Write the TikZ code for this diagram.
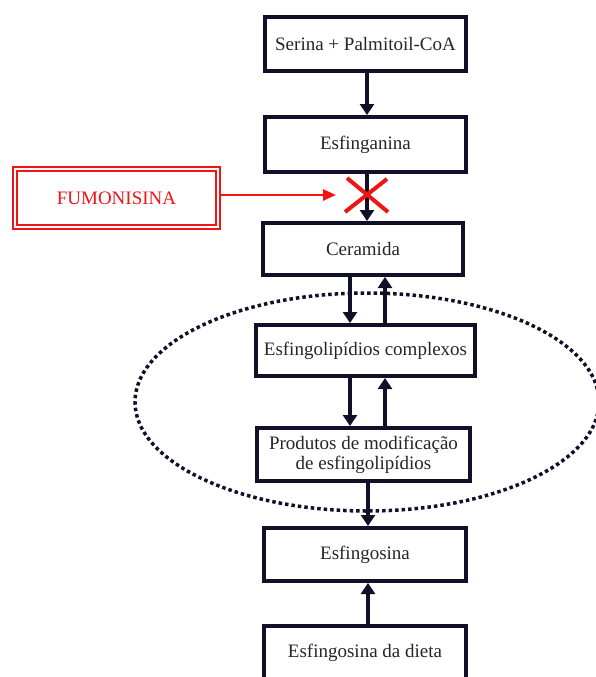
\documentclass[tikz,border=0pt]{standalone}
\usepackage{fontspec}
\setmainfont{Liberation Serif}
\usetikzlibrary{arrows.meta,shapes.geometric}
\definecolor{navy}{RGB}{16,16,40}
\definecolor{redx}{RGB}{240,20,20}
\begin{document}
\begin{tikzpicture}[x=1pt,y=-1pt,
  box/.style={draw=navy,line width=4pt,fill=white,rectangle,inner sep=0pt,
    font=\fontsize{19}{20}\selectfont,text=black!85,align=center},
  arr/.style={draw=navy,line width=4pt,-{Triangle[width=14pt,length=11pt]}},
  redarr/.style={draw=redx,line width=2.6pt,-{Triangle[width=11pt,length=13pt]}},
  redbox/.style={draw=redx,double=white,line width=1.8pt,double distance=2.2pt,rectangle,
    font=\fontsize{19}{20}\selectfont,text=redx},
  xline/.style={draw=redx,line width=4pt},
  grp/.style={draw=navy,ellipse,line width=3.5pt,dash pattern=on 3.5pt off 3pt}]
\useasboundingbox (0,0) rectangle (596,677);
\clip (0,0) rectangle (596,677);
\fill[white] (0,0) rectangle (596,677);
% dotted group
\node[grp,minimum width=464pt,minimum height=218pt] (group) at (367,402) {};
% boxes
\node[box,minimum width=201pt,minimum height=54pt] (b1) at (365.5,44) {Serina + Palmitoil-CoA};
\node[box,minimum width=201pt,minimum height=55pt] (b2) at (365.5,144.5) {Esfinganina};
\node[box,minimum width=200pt,minimum height=52pt] (b3) at (363,249) {Ceramida};
\node[box,minimum width=219pt,minimum height=51pt] (b4) at (365.5,350.5) {Esfingolipídios complexos};
\node[box,minimum width=213pt,minimum height=53pt] (b5) at (363.5,454.5) {Produtos de modificação\\de esfingolipídios};
\node[box,minimum width=202pt,minimum height=53pt] (b6) at (365,554.5) {Esfingosina};
\node[box,minimum width=202pt,minimum height=54pt] (b7) at (365,653) {Esfingosina da dieta};
\node[redbox,minimum width=203pt,minimum height=58pt] (fum) at (116.5,198) {FUMONISINA};
% x positions
\coordinate (xc) at (367,0);
\coordinate (xl) at (350,0);
\coordinate (xr) at (385,0);
\coordinate (xm) at (368,0);
\coordinate (xx) at (367,195);
\coordinate (rt) at (336,195);
% arrows
\draw[arr] (b1.south -| xc) -- (b2.north -| xc);
\draw[arr] (b2.south -| xc) -- (b3.north -| xc);
\draw[arr] (b3.south -| xl) -- (b4.north -| xl);
\draw[arr] (b4.north -| xr) -- (b3.south -| xr);
\draw[arr] (b4.south -| xl) -- (b5.north -| xl);
\draw[arr] (b5.north -| xr) -- (b4.south -| xr);
\draw[arr] (b5.south -| xm) -- (b6.north -| xm);
\draw[arr] (b7.north -| xm) -- (b6.south -| xm);
% fumonisina
\draw[redarr] (fum.east |- rt) -- (rt);
\draw[xline] ([shift={(-20,-17)}]xx) -- ([shift={(21,17)}]xx);
\draw[xline] ([shift={(20,-16)}]xx) -- ([shift={(-22,17)}]xx);
\end{tikzpicture}
\end{document}
